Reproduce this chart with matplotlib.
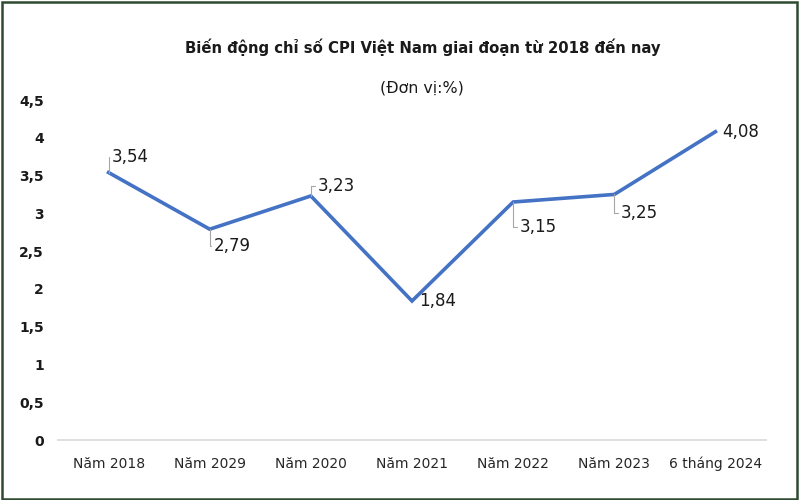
import matplotlib
matplotlib.use("Agg")
import matplotlib.pyplot as plt
from matplotlib.patches import Rectangle

categories = ["Năm 2018", "Năm 2029", "Năm 2020", "Năm 2021", "Năm 2022", "Năm 2023", "6 tháng 2024"]
values = [3.54, 2.79, 3.23, 1.84, 3.15, 3.25, 4.08]
value_labels = ["3,54", "2,79", "3,23", "1,84", "3,15", "3,25", "4,08"]
y_ticks = [0, 0.5, 1, 1.5, 2, 2.5, 3, 3.5, 4, 4.5]
y_tick_labels = ["0", "0,5", "1", "1,5", "2", "2,5", "3", "3,5", "4", "4,5"]

# label offsets in points (dx, dy) and whether to draw a leader line
offsets = [(2.5, 11), (3, -12), (5, 7), (5, 0), (4.5, -18), (4.5, -13), (5, 0)]
leaders = [True, True, True, False, True, True, False]

plt.rcParams['font.family'] = ['DejaVu Sans']

fig = plt.figure(figsize=(8, 5), dpi=100)
ax = fig.add_axes([0.0725, 0.12, 0.885, 0.68])

x = list(range(len(categories)))
ax.plot(x, values, color="#4472C4", lw=2.6, solid_joinstyle="miter", zorder=3)

for xi, v, lab, (dx, dy), ld in zip(x, values, value_labels, offsets, leaders):
    kw = {}
    if ld:
        kw["arrowprops"] = dict(arrowstyle="-", color="#a6a6a6", lw=0.8,
                                shrinkA=0, shrinkB=0, relpos=(0, 0.5),
                                connectionstyle="angle,angleA=0,angleB=90,rad=0")
    ax.annotate(lab, xy=(xi, v), xytext=(dx, dy), textcoords="offset points",
                ha="left", va="center", fontsize=12, color="#1a1a1a", **kw)

ax.set_xlim(-0.5, len(categories) - 0.5)
ax.set_ylim(0, 4.5)
ax.set_yticks(y_ticks)
ax.set_yticklabels(y_tick_labels, fontweight="bold", fontsize=10, color="#1a1a1a")
ax.set_xticks(x)
ax.set_xticklabels(categories, fontsize=10, color="#262626")
ax.tick_params(axis="both", length=0)
ax.tick_params(axis="y", pad=10)
ax.tick_params(axis="x", pad=12)

for s in ["top", "right", "left"]:
    ax.spines[s].set_visible(False)
ax.spines["bottom"].set_color("#d9d9d9")
ax.spines["bottom"].set_linewidth(1.2)

fig.text(0.528, 1 - 47 / 500, "Biến động chỉ số CPI Việt Nam giai đoạn từ 2018 đến nay",
         ha="center", va="center", fontsize=10.7, fontweight="bold", color="#1a1a1a")
fig.text(0.528, 1 - 88 / 500, "(Đơn vị:%)", ha="center", va="center",
         fontsize=11.4, color="#1a1a1a")

fig.patches.append(Rectangle((0.002, 0.003), 0.994, 0.994, transform=fig.transFigure,
                             fill=False, edgecolor="#2e4a30", lw=1.8))

fig.savefig("out.png", dpi=100)
